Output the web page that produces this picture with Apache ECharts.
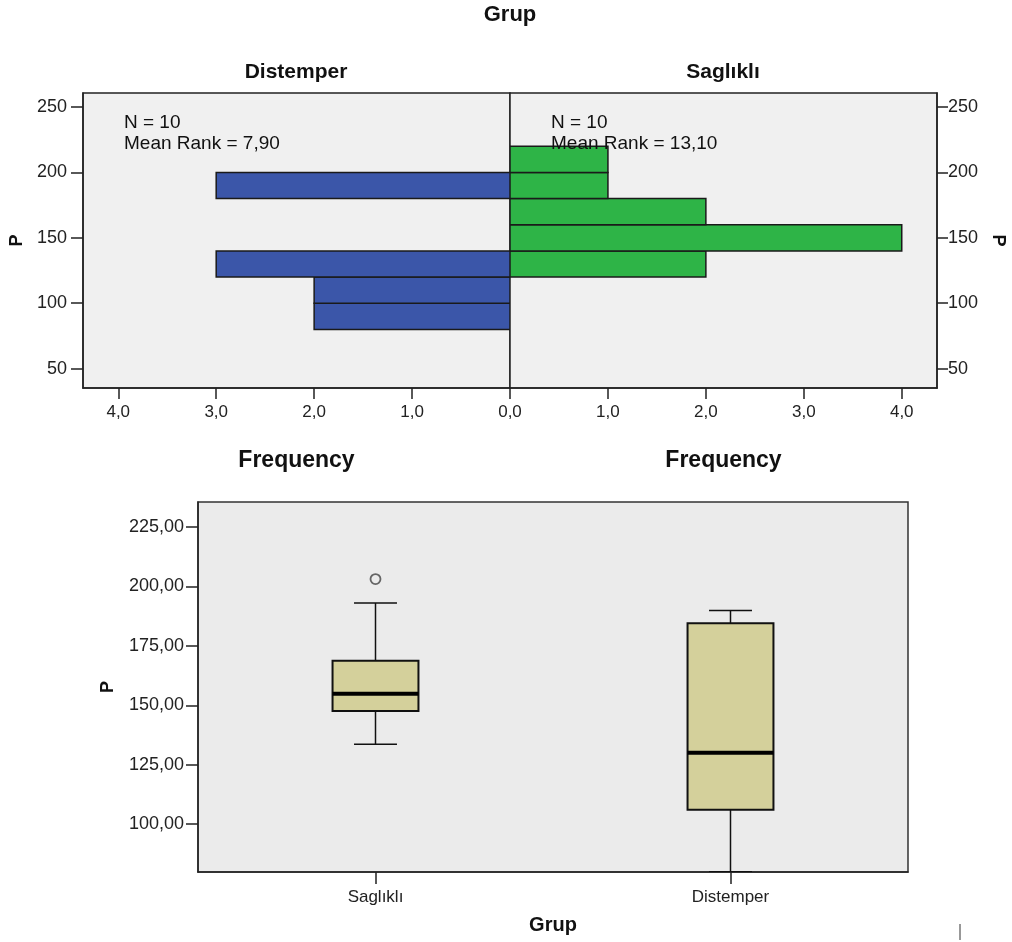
<!DOCTYPE html>
<html>
<head>
<meta charset="utf-8">
<script src="https://cdn.jsdelivr.net/npm/echarts@6/dist/echarts.min.js"></script>
<style>
html,body{margin:0;padding:0;background:#fff;}
#chart{width:1012px;height:942px;}
</style>
</head>
<body>
<div id="chart"></div>
<script>
// ---- data ----
const binStarts = [80, 100, 120, 140, 160, 180, 200];
const binWidth = 20;
const distemperFreq = [2, 2, 3, 0, 0, 3, 0];
const saglikliFreq = [0, 0, 2, 4, 2, 1, 1];
const freqTicks = [0, 1, 2, 3, 4];
const freqLabelsRight = [1, 2, 3, 4];
const pTicks = [50, 100, 150, 200, 250];
const groups = ['Saglıklı', 'Distemper'];
// [min, Q1, median, Q3, max]
const saglikliBox = [133.6, 147.6, 154.9, 168.7, 193.0];
const distemperBox = [80.0, 106.1, 130.1, 184.5, 189.9];
const outliers = [[0, 203.1]];
const boxTicks = [100, 125, 150, 175, 200, 225];
const distemperNote = 'N = 10\nMean Rank = 7,90';
const saglikliNote = 'N = 10\nMean Rank = 13,10';

const FONT = 'Liberation Sans, Arial, sans-serif';

function histData(freq) {
  const out = [];
  binStarts.forEach((s, i) => { if (freq[i] > 0) out.push([s, s + binWidth, freq[i]]); });
  return out;
}
function histRender(color) {
  return function (params, api) {
    const s = api.value(0), e = api.value(1), c = api.value(2);
    const p0 = api.coord([0, s]);
    const p1 = api.coord([c, e]);
    return {
      type: 'rect',
      shape: {
        x: Math.min(p0[0], p1[0]), y: Math.min(p0[1], p1[1]),
        width: Math.abs(p1[0] - p0[0]), height: Math.abs(p1[1] - p0[1])
      },
      style: { fill: color, stroke: '#1a1a1a', lineWidth: 1.5 }
    };
  };
}
function boxRender(params, api) {
  const i = api.value(0);
  const band = api.size([1, 0])[0];
  const boxW = band * 0.242, capW = band * 0.121;
  const yMin = api.coord([i, api.value(1)])[1];
  const yQ1 = api.coord([i, api.value(2)])[1];
  const pMed = api.coord([i, api.value(3)]);
  const yQ3 = api.coord([i, api.value(4)])[1];
  const yMax = api.coord([i, api.value(5)])[1];
  const cx = pMed[0];
  const ls = { stroke: '#111', lineWidth: 1.5 };
  return {
    type: 'group',
    children: [
      { type: 'line', shape: { x1: cx, y1: yQ3, x2: cx, y2: yMax }, style: ls },
      { type: 'line', shape: { x1: cx - capW / 2, y1: yMax, x2: cx + capW / 2, y2: yMax }, style: ls },
      { type: 'line', shape: { x1: cx, y1: yQ1, x2: cx, y2: yMin }, style: ls },
      { type: 'line', shape: { x1: cx - capW / 2, y1: yMin, x2: cx + capW / 2, y2: yMin }, style: ls },
      { type: 'rect', shape: { x: cx - boxW / 2, y: yQ3, width: boxW, height: yQ1 - yQ3 },
        style: { fill: '#d4d09b', stroke: '#111', lineWidth: 2 } },
      { type: 'line', shape: { x1: cx - boxW / 2, y1: pMed[1], x2: cx + boxW / 2, y2: pMed[1] },
        style: { stroke: '#000', lineWidth: 4 } }
    ]
  };
}

const fmt1 = v => v.toFixed(1).replace('.', ',');
const fmt2 = v => v.toFixed(2).replace('.', ',');

const lblStyle = { color: '#222', fontSize: 17, fontFamily: FONT };
const axLine = { show: true, onZero: false, lineStyle: { color: '#222', width: 1.5 } };
const tickStyle = { show: true, lineStyle: { color: '#222', width: 1.5 } };

const chart = echarts.init(document.getElementById('chart'), null, { renderer: 'canvas' });
chart.setOption({
  animation: false,
  backgroundColor: '#fff',
  grid: [
    { left: 83, top: 93, width: 427, height: 295, show: true, backgroundColor: '#f0f0f0', borderColor: '#222', borderWidth: 1.5 },
    { left: 510, top: 93, width: 427, height: 295, show: true, backgroundColor: '#f0f0f0', borderColor: '#222', borderWidth: 1.5 },
    { left: 198, top: 502, width: 710, height: 370, show: true, backgroundColor: '#ebebeb', borderColor: '#333', borderWidth: 1.5 }
  ],
  xAxis: [
    { gridIndex: 0, type: 'value', inverse: true, min: 0, max: 4.36, position: 'bottom',
      axisLine: axLine, splitLine: { show: false },
      axisTick: Object.assign({ length: 11, customValues: freqTicks }, tickStyle),
      axisLabel: Object.assign({ customValues: freqTicks, formatter: fmt1, margin: 16 }, lblStyle),
      name: 'Frequency', nameLocation: 'middle', nameGap: 61,
      nameTextStyle: { fontSize: 23, fontWeight: 'bold', color: '#111', fontFamily: FONT } },
    { gridIndex: 1, type: 'value', min: 0, max: 4.36, position: 'bottom',
      axisLine: axLine, splitLine: { show: false },
      axisTick: Object.assign({ length: 11, customValues: freqTicks }, tickStyle),
      axisLabel: Object.assign({ customValues: freqLabelsRight, formatter: fmt1, margin: 16 }, lblStyle),
      name: 'Frequency', nameLocation: 'middle', nameGap: 61,
      nameTextStyle: { fontSize: 23, fontWeight: 'bold', color: '#111', fontFamily: FONT } },
    { gridIndex: 2, type: 'category', data: groups, position: 'bottom',
      axisLine: axLine,
      axisTick: Object.assign({ alignWithLabel: true, interval: 0, length: 12 }, tickStyle),
      axisLabel: Object.assign({ margin: 17 }, lblStyle),
      name: 'Grup', nameLocation: 'middle', nameGap: 43,
      nameTextStyle: { fontSize: 20, fontWeight: 'bold', color: '#111', fontFamily: FONT } }
  ],
  yAxis: [
    { gridIndex: 0, type: 'value', position: 'left', min: 35.2, max: 260.7,
      axisLine: axLine, splitLine: { show: false },
      axisTick: Object.assign({ length: 12, customValues: pTicks }, tickStyle),
      axisLabel: Object.assign({ customValues: pTicks, margin: 16 }, lblStyle, { fontSize: 18 }),
      name: 'P', nameLocation: 'middle', nameRotate: 90, nameGap: 57,
      nameTextStyle: { fontSize: 18, fontWeight: 'bold', color: '#111', fontFamily: FONT } },
    { gridIndex: 1, type: 'value', position: 'right', min: 35.2, max: 260.7,
      axisLine: axLine, splitLine: { show: false },
      axisTick: Object.assign({ length: 11, customValues: pTicks }, tickStyle),
      axisLabel: Object.assign({ customValues: pTicks, margin: 11 }, lblStyle, { fontSize: 18 }),
      name: 'P', nameLocation: 'middle', nameRotate: -90, nameGap: 52,
      nameTextStyle: { fontSize: 18, fontWeight: 'bold', color: '#111', fontFamily: FONT } },
    { gridIndex: 2, type: 'value', position: 'left', min: 79.9, max: 235.5,
      axisLine: axLine, splitLine: { show: false },
      axisTick: Object.assign({ length: 12, customValues: boxTicks }, tickStyle),
      axisLabel: Object.assign({ customValues: boxTicks, formatter: fmt2, margin: 14 }, lblStyle, { fontSize: 18 }),
      name: 'P', nameLocation: 'middle', nameRotate: 90, nameGap: 81,
      nameTextStyle: { fontSize: 18, fontWeight: 'bold', color: '#111', fontFamily: FONT } }
  ],
  series: [
    { type: 'custom', name: 'Distemper', xAxisIndex: 0, yAxisIndex: 0, clip: true,
      encode: { x: 2, y: [0, 1] }, data: histData(distemperFreq), renderItem: histRender('#3b56a9') },
    { type: 'custom', name: 'Saglıklı', xAxisIndex: 1, yAxisIndex: 1, clip: true,
      encode: { x: 2, y: [0, 1] }, data: histData(saglikliFreq), renderItem: histRender('#2eb447') },
    { type: 'custom', name: 'box', xAxisIndex: 2, yAxisIndex: 2, clip: true,
      encode: { x: 0, y: [1, 2, 3, 4, 5] },
      data: [[0].concat(saglikliBox), [1].concat(distemperBox)], renderItem: boxRender },
    { type: 'scatter', xAxisIndex: 2, yAxisIndex: 2, data: outliers, symbol: 'circle', symbolSize: 10,
      itemStyle: { color: 'rgba(0,0,0,0)', borderColor: '#444', borderWidth: 1.8 }, z: 5 }
  ],
  graphic: [
    { type: 'text', x: 510, y: 15, z: 100, style: { text: 'Grup', fill: '#111', font: 'bold 22px ' + FONT, textAlign: 'center', textVerticalAlign: 'middle' } },
    { type: 'text', x: 296, y: 72, z: 100, style: { text: 'Distemper', fill: '#111', font: 'bold 21px ' + FONT, textAlign: 'center', textVerticalAlign: 'middle' } },
    { type: 'text', x: 723, y: 72, z: 100, style: { text: 'Saglıklı', fill: '#111', font: 'bold 21px ' + FONT, textAlign: 'center', textVerticalAlign: 'middle' } },
    { type: 'text', x: 124, y: 112, z: 100, style: { text: distemperNote, fill: '#111', font: '19px ' + FONT, lineHeight: 21, textAlign: 'left', textVerticalAlign: 'top' } },
    { type: 'text', x: 551, y: 112, z: 100, style: { text: saglikliNote, fill: '#111', font: '19px ' + FONT, lineHeight: 21, textAlign: 'left', textVerticalAlign: 'top' } },
    { type: 'line', z: 100, shape: { x1: 960, y1: 924, x2: 960, y2: 940 }, style: { stroke: '#333', lineWidth: 1 } }
  ]
});
</script>
</body>
</html>
